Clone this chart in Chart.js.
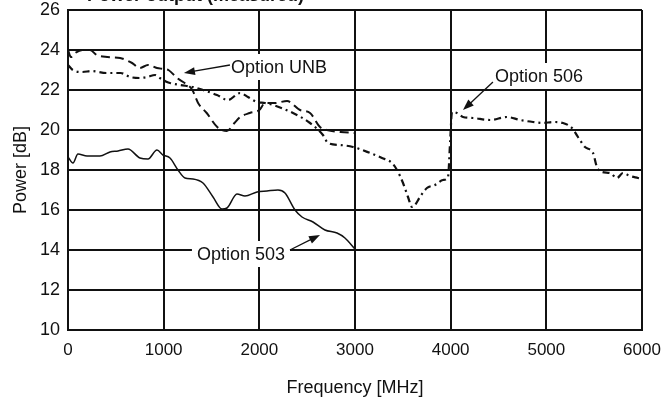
<!DOCTYPE html>
<html>
<head>
<meta charset="utf-8">
<script src="https://cdn.jsdelivr.net/npm/chart.js@4.4.1/dist/chart.umd.min.js"></script>
<style>
  html, body { margin: 0; padding: 0; background: #fff; }
  #wrap { width: 662px; height: 404px; position: relative; }
</style>
</head>
<body>
<div id="wrap"><canvas id="chart"></canvas></div>
<script>
// Option UNB (dashed)
const freqUNB = [0, 30, 75, 150, 230, 300, 410, 545, 670, 750, 836, 930, 1000, 1050, 1140, 1220, 1300, 1360, 1450, 1560, 1660, 1740, 1800, 1900, 2000, 2060, 2160, 2290, 2425, 2530, 2634, 2707, 2850, 3000];
const powerUNB = [24.0, 23.65, 23.85, 24.0, 24.0, 23.75, 23.65, 23.6, 23.35, 23.1, 23.25, 23.1, 23.05, 23.0, 22.6, 22.35, 22.0, 21.35, 20.85, 20.15, 19.95, 20.35, 20.65, 20.85, 21.0, 21.35, 21.35, 21.45, 21.0, 20.85, 20.15, 20.0, 19.9, 19.85];

// Option 506 (dash-dot)
const freq506 = [0, 50, 150, 250, 400, 550, 650, 750, 830, 910, 960, 1035, 1066, 1171, 1307, 1411, 1557, 1672, 1798, 1881, 1976, 2059, 2143, 2352, 2530, 2665, 2718, 2843, 2979, 3157, 3282, 3387, 3439, 3502, 3554, 3596, 3627, 3679, 3752, 3836, 3920, 3972, 3995, 4014, 4066, 4129, 4233, 4411, 4589, 4725, 4861, 4965, 5070, 5174, 5268, 5331, 5404, 5488, 5529, 5582, 5665, 5739, 5801, 5874, 5958, 6000];
const power506 = [23.25, 23.0, 22.9, 22.95, 22.85, 22.85, 22.65, 22.6, 22.65, 22.75, 22.6, 22.4, 22.35, 22.25, 22.15, 22.0, 21.75, 21.5, 21.85, 21.65, 21.4, 21.35, 21.25, 20.85, 20.35, 19.75, 19.35, 19.25, 19.15, 18.85, 18.6, 18.35, 18.0, 17.35, 16.65, 16.15, 16.25, 16.65, 17.1, 17.25, 17.5, 17.65, 19.5, 20.9, 20.85, 20.65, 20.6, 20.5, 20.65, 20.5, 20.4, 20.35, 20.4, 20.35, 20.1, 19.65, 19.15, 18.85, 18.15, 17.9, 17.85, 17.6, 17.85, 17.7, 17.6, 17.55];

// Option 503 (solid)
const freq503 = [0, 52, 104, 199, 334, 439, 523, 627, 752, 836, 930, 993, 1066, 1150, 1223, 1307, 1411, 1516, 1610, 1662, 1766, 1850, 1976, 2080, 2195, 2268, 2373, 2446, 2561, 2686, 2812, 2895, 3000];
const power503 = [18.65, 18.35, 18.8, 18.7, 18.7, 18.9, 18.95, 19.05, 18.6, 18.55, 19.0, 18.75, 18.6, 18.0, 17.6, 17.55, 17.35, 16.65, 16.05, 16.1, 16.8, 16.7, 16.9, 16.95, 17.0, 16.85, 16.0, 15.65, 15.4, 15.0, 14.85, 14.6, 14.05];

// callout labels: text, label centre, arrow tail, arrow head (MHz, dB)
const callouts = [
    { text: 'Option UNB', at: [2205, 23.15], from: [1693, 23.25], to: [1212, 22.85] },
    { text: 'Option 506', at: [4923, 22.7], from: [4442, 22.4], to: [4129, 21.0] },
    { text: 'Option 503', at: [1808, 13.8], from: [2320, 14.0], to: [2634, 14.75] }
];

const FONT = '"Liberation Sans", Arial, sans-serif';
const INK = '#111111';

function toPoints(xs, ys) {
    return xs.map((x, i) => ({ x: x, y: ys[i] }));
}

const calloutPlugin = {
    id: 'callouts',
    afterDatasetsDraw(chart) {
        const { ctx, scales: { x, y } } = chart;
        ctx.save();
        ctx.font = '18px ' + FONT;
        ctx.textAlign = 'center';
        ctx.textBaseline = 'middle';
        callouts.forEach(c => {
            const cx = x.getPixelForValue(c.at[0]);
            const cy = y.getPixelForValue(c.at[1]);
            const w = ctx.measureText(c.text).width;
            ctx.fillStyle = '#ffffff';
            ctx.fillRect(cx - w / 2 - 5, cy - 13, w + 10, 26);
            ctx.fillStyle = INK;
            ctx.fillText(c.text, cx, cy + 1);

            // arrow
            const x1 = x.getPixelForValue(c.from[0]), y1 = y.getPixelForValue(c.from[1]);
            const x2 = x.getPixelForValue(c.to[0]), y2 = y.getPixelForValue(c.to[1]);
            const ang = Math.atan2(y2 - y1, x2 - x1);
            ctx.strokeStyle = INK;
            ctx.lineWidth = 1.3;
            ctx.beginPath();
            ctx.moveTo(x1, y1);
            ctx.lineTo(x2 - 6 * Math.cos(ang), y2 - 6 * Math.sin(ang));
            ctx.stroke();
            ctx.beginPath();
            ctx.moveTo(x2, y2);
            ctx.lineTo(x2 - 11 * Math.cos(ang) + 4 * Math.sin(ang), y2 - 11 * Math.sin(ang) - 4 * Math.cos(ang));
            ctx.lineTo(x2 - 11 * Math.cos(ang) - 4 * Math.sin(ang), y2 - 11 * Math.sin(ang) + 4 * Math.cos(ang));
            ctx.closePath();
            ctx.fillStyle = INK;
            ctx.fill();
        });

        // chart heading, mostly cut off by the top edge
        ctx.font = 'bold 18px ' + FONT;
        ctx.textAlign = 'right';
        ctx.textBaseline = 'alphabetic';
        ctx.fillText('Power output (measured)', 304, 1);
        ctx.restore();
    }
};

const ctx = document.getElementById('chart');

new Chart(ctx, {
    type: 'line',
    data: {
        datasets: [
            {
                label: 'Option UNB',
                data: toPoints(freqUNB, powerUNB),
                borderColor: INK,
                borderWidth: 2,
                borderDash: [9, 5],
                pointRadius: 0,
                cubicInterpolationMode: 'monotone',
                fill: false
            },
            {
                label: 'Option 506',
                data: toPoints(freq506, power506),
                borderColor: INK,
                borderWidth: 2.2,
                borderDash: [7, 4, 2, 4],
                pointRadius: 0,
                cubicInterpolationMode: 'monotone',
                fill: false
            },
            {
                label: 'Option 503',
                data: toPoints(freq503, power503),
                borderColor: INK,
                borderWidth: 1.5,
                pointRadius: 0,
                cubicInterpolationMode: 'monotone',
                fill: false
            }
        ]
    },
    options: {
        responsive: true,
        maintainAspectRatio: false,
        animation: false,
        layout: { padding: { top: 0, right: 0, bottom: 0, left: 0 } },
        plugins: {
            legend: { display: false },
            tooltip: { enabled: false }
        },
        scales: {
            x: {
                type: 'linear',
                min: 0,
                max: 6000,
                afterFit: s => {
                    s.height = 74;
                    s.paddingLeft = 0;
                    s.paddingRight = 20;
                },
                ticks: {
                    stepSize: 1000,
                    color: INK,
                    padding: 10,
                    font: { family: FONT, size: 17 },
                    callback: v => String(v)
                },
                grid: { color: INK, lineWidth: 2, drawTicks: false },
                border: { display: true, color: INK, width: 2 },
                title: {
                    display: true,
                    text: 'Frequency [MHz]',
                    color: INK,
                    padding: { top: 0, bottom: 5 },
                    font: { family: FONT, size: 18 }
                }
            },
            y: {
                min: 10,
                max: 26,
                afterFit: s => {
                    s.width = 68;
                    s.paddingTop = 10;
                    s.paddingBottom = 0;
                },
                ticks: {
                    stepSize: 2,
                    color: INK,
                    padding: 8,
                    font: { family: FONT, size: 18 }
                },
                grid: { color: INK, lineWidth: 2, drawTicks: false },
                border: { display: true, color: INK, width: 2 },
                title: {
                    display: true,
                    text: 'Power [dB]',
                    color: INK,
                    padding: { top: 10, bottom: 0 },
                    font: { family: FONT, size: 18 }
                }
            }
        }
    },
    plugins: [calloutPlugin]
});
</script>
</body>
</html>
